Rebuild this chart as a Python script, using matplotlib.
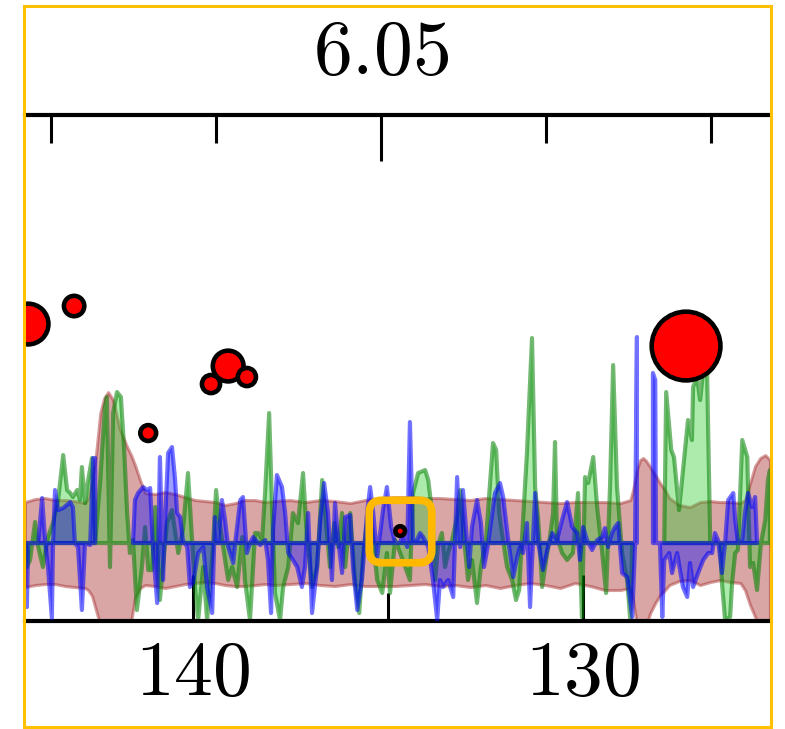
import numpy as np
import matplotlib
matplotlib.use("Agg")
import matplotlib.pyplot as plt
from matplotlib.ticker import MultipleLocator, FuncFormatter
from matplotlib.patches import Rectangle, BoxStyle

plt.rcParams['mathtext.fontset'] = 'cm'

nan = np.nan

# band (mean +/- spread)
band_ppm = [144.31, 144.05, 143.79, 143.54, 143.28, 143.03, 142.77, 142.69, 142.59, 142.49,
            142.38, 142.28, 142.18, 142.05, 141.87, 141.69, 141.59, 141.49, 141.36, 141.23,
            140.97, 140.72, 140.46, 140.21, 139.95, 139.69, 139.44, 139.18, 138.92, 138.67,
            138.41, 138.15, 137.90, 137.51, 137.13, 136.74, 136.36, 135.97, 135.59, 135.21,
            134.82, 134.44, 134.05, 133.67, 133.28, 132.90, 132.51, 132.13, 131.74, 131.36,
            130.97, 130.59, 130.21, 129.82, 129.44, 129.05, 128.79, 128.72, 128.62, 128.54,
            128.46, 128.38, 128.28, 128.15, 128.03, 127.90, 127.79, 127.54, 127.26, 127.00,
            126.74, 126.49, 126.23, 125.97, 125.85, 125.72, 125.59, 125.46, 125.33, 125.21]
band_hi = [4.1, 4.4, 4.5, 4.3, 4.3, 4.2, 4.0, 4.5, 6.3, 8.8,
           13.0, 14.5, 15.1, 14.3, 11.3, 9.6, 8.8, 7.8, 6.3, 5.0,
           4.9, 5.1, 4.9, 4.6, 4.3, 4.2, 4.1, 3.8, 4.0, 4.3,
           4.3, 4.1, 4.2, 4.3, 4.1, 4.3, 4.2, 4.0, 4.3, 4.5,
           4.6, 4.6, 4.5, 4.5, 4.4, 4.3, 4.5, 4.4, 4.3, 4.2,
           4.1, 4.0, 4.1, 4.1, 4.1, 4.0, 4.3, 5.3, 7.3, 8.3,
           8.5, 8.2, 7.6, 6.8, 6.0, 5.3, 4.5, 3.8, 3.6, 4.1,
           4.2, 4.1, 4.1, 4.0, 4.3, 6.0, 7.7, 8.5, 8.8, 8.3]
band_lo = [-4.4, -4.2, -4.1, -4.1, -4.3, -4.4, -4.5, -4.7, -5.3, -6.7,
           -8.2, -9.7, -10.2, -10.2, -9.7, -8.7, -7.9, -5.5, -4.5, -4.2,
           -4.3, -4.5, -4.3, -4.1, -4.0, -3.9, -4.0, -4.2, -4.3, -4.3,
           -4.2, -4.1, -4.2, -4.1, -4.0, -4.2, -4.3, -4.1, -4.3, -4.3,
           -4.3, -4.2, -4.1, -4.3, -4.2, -4.4, -4.2, -4.5, -4.2, -4.0,
           -4.2, -4.5, -4.0, -4.3, -4.7, -4.7, -4.5, -5.7, -8.2, -9.2,
           -8.9, -8.2, -7.0, -6.0, -5.2, -4.7, -4.2, -3.8, -3.7, -4.2,
           -3.9, -3.7, -3.9, -4.0, -4.7, -6.2, -7.4, -8.5, -8.7, -8.7]

# green trace
green_ppm = [144.26, 144.18, 144.05, 143.97, 143.85, 143.72, 143.59, 143.46, 143.33, 143.23,
             143.15, 143.08, 142.97, 142.90, 142.85, 142.77, 142.69, 142.59, 142.51, 142.38,
             142.26, 142.21, 142.13, 142.05, 141.95, 141.85, 141.77, 141.69, 141.62, 141.54,
             141.44, 141.31, 141.23, 141.15, 141.05, 140.97, 140.85, 140.67, 140.54, 140.38,
             140.26, 140.13, 140.03, 139.95, 139.87, 139.74, 139.64, 139.49, 139.41, 139.33,
             139.23, 139.10, 139.00, 138.87, 138.74, 138.67, 138.54, 138.41, 138.33, 138.23,
             138.15, 138.05, 137.97, 137.90, 137.77, 137.69, 137.56, 137.44, 137.31, 137.18,
             137.08, 136.95, 136.82, 136.69, 136.59, 136.49, 136.38, 136.28, 136.18, 136.10,
             135.97, 135.85, 135.74, 135.64, 135.51, 135.41, 135.28, 135.15, 135.03, 134.95,
             134.82, 134.69, 134.56, 134.44, 134.36, 134.23, 134.05, 133.97, 133.87, 133.79,
             133.72, 133.62, 133.54, 133.46, 133.36, 133.23, 133.15, 133.08, 132.95, 132.85,
             132.72, 132.62, 132.49, 132.38, 132.31, 132.23, 132.15, 132.08, 131.95, 131.82,
             131.72, 131.64, 131.54, 131.44, 131.31, 131.23, 131.15, 131.05, 130.92, 130.85,
             130.77, 130.72, 130.67, 130.54, 130.41, 130.26, 130.13, 130.03, 129.95, 129.87,
             129.74, 129.64, 129.51, 129.41, 129.31, 129.23, 129.13, 129.00, 128.87, 128.79,
             128.74, 128.30, 127.92, 127.87, 127.74, 127.67, 127.54, 127.38, 127.31, 127.21,
             127.18, 127.08, 127.00, 126.92, 126.82, 126.74, 126.49, 126.44, 126.36, 126.23,
             126.18, 126.10, 126.03, 125.92, 125.79, 125.72, 125.64, 125.54, 125.44, 125.33,
             125.26, 125.21]
green_int = [-2.4, -1.7, 2.1, -0.4, -2.4, 0.6, 2.0, 4.3, 8.8, 5.3,
             5.0, 4.6, 5.3, 4.3, 7.6, 4.0, 6.3, 8.5, 0.0, 6.3,
             13.6, 14.6, -2.4, 13.0, 15.1, 14.6, 9.6, 3.0, -1.0, 0.3,
             -6.7, -2.4, 1.6, -2.7, -2.7, 3.6, -5.7, 2.0, 3.3, -1.0,
             1.3, 7.0, 0.6, -4.4, -7.7, -2.4, -7.7, -0.4, 5.3, 2.3,
             -0.4, -3.7, -2.4, -4.4, 0.6, -3.7, -7.7, 1.0, 1.0, 0.3,
             5.3, 13.0, 3.0, -5.0, -7.7, -4.4, -2.4, 3.0, 2.0, 7.0,
             0.6, -4.4, -2.4, 6.3, 2.0, -2.4, 2.0, -0.4, 3.0, -2.4,
             3.0, -3.7, -7.0, -1.0, 3.0, 1.3, -3.7, -5.0, -1.0, -5.0,
             0.3, -1.0, -2.4, -3.7, 5.0, 7.0, 7.3, 6.3, 3.0, -3.7,
             -0.2, 1.0, -2.4, -1.0, 0.3, 2.6, 5.3, 1.6, -3.7, -1.7,
             -6.0, -2.4, 0.3, 6.3, 10.0, 9.3, 3.0, 1.0, -2.4, -3.7,
             -5.7, -4.7, 2.3, 9.0, 20.5, 5.6, 2.3, -4.4, -1.0, 0.6,
             3.0, 10.1, 0.6, -1.0, -1.7, -1.0, 5.0, -7.4, 6.6, 6.0,
             8.6, 3.6, -1.0, -5.0, 5.6, 17.8, 5.6, -1.0, -3.7, -7.7,
             0.0, nan, 0.0, 15.1, 9.3, 8.6, 3.3, 9.6, 12.3, 10.3,
             15.6, 16.6, 14.3, 17.3, 17.0, 0.0, 0.0, -4.0, -7.7, -7.4,
             -4.0, -1.0, -0.7, 10.3, 8.6, -2.4, -2.0, -4.7, 0.0, 2.3,
             6.3, 7.3]

# blue trace
blue_ppm = [144.26, 144.23, 143.97, 143.87, 143.79, 143.72, 143.62, 143.59, 143.54, 143.46,
            143.33, 143.15, 143.08, 143.03, 142.95, 142.85, 142.77, 142.64, 142.56, 142.51,
            142.00, 141.54, 141.49, 141.41, 141.28, 141.18, 141.10, 141.03, 140.92, 140.85,
            140.77, 140.72, 140.64, 140.54, 140.46, 140.41, 140.33, 140.26, 140.15, 140.08,
            140.00, 139.87, 139.74, 139.64, 139.51, 139.44, 139.36, 139.26, 139.18, 139.10,
            138.97, 138.92, 138.79, 138.72, 138.62, 138.54, 138.46, 138.28, 138.15, 138.08,
            138.00, 137.95, 137.85, 137.72, 137.64, 137.56, 137.44, 137.33, 137.21, 137.13,
            137.05, 136.95, 136.82, 136.74, 136.64, 136.54, 136.44, 136.36, 136.28, 136.18,
            136.10, 135.97, 135.90, 135.79, 135.67, 135.54, 135.46, 135.38, 135.28, 135.13,
            135.03, 134.92, 134.82, 134.69, 134.62, 134.51, 134.44, 134.36, 134.26, 134.18,
            134.10, 133.97, 133.85, 133.74, 133.67, 133.59, 133.46, 133.33, 133.23, 133.15,
            133.08, 133.00, 132.92, 132.85, 132.72, 132.62, 132.54, 132.44, 132.33, 132.26,
            132.13, 132.05, 131.92, 131.79, 131.69, 131.62, 131.54, 131.44, 131.36, 131.23,
            131.15, 131.03, 130.90, 130.79, 130.67, 130.54, 130.41, 130.28, 130.15, 130.08,
            130.00, 129.90, 129.77, 129.64, 129.51, 129.44, 129.36, 129.26, 129.18, 129.10,
            129.00, 128.87, 128.74, 128.67, 128.62, 128.40, 128.21, 128.15, 128.13, 128.03,
            127.97, 127.92, 127.79, 127.72, 127.59, 127.44, 127.33, 127.26, 127.18, 127.05,
            126.92, 126.79, 126.69, 126.62, 126.54, 126.44, 126.36, 126.28, 126.15, 126.10,
            126.03, 125.92, 125.85, 125.77, 125.67, 125.59, 125.54]
blue_int = [-6.4, 0.0, 0.0, 4.5, 0.0, -2.4, -7.5, 0.0, 5.3, 3.3,
            3.5, 4.1, 3.6, 0.0, -0.4, -6.7, 0.0, -0.2, 8.5, 8.5,
            nan, 0.0, 4.3, 5.0, 5.6, 5.3, 5.5, -0.4, -6.0, 8.6,
            -3.7, 2.0, 9.0, 9.6, 6.3, 3.0, 2.6, 0.3, -0.4, -4.4,
            -4.0, -1.0, -0.4, -4.4, -7.0, 2.6, 0.0, 4.3, 2.3, -0.4,
            -2.0, 0.0, 4.3, 4.6, -1.0, 0.0, 0.6, -0.2, 0.3, -1.7,
            -7.0, 1.3, 6.8, 5.6, 3.0, -1.0, -1.7, -2.4, -4.4, -2.4,
            3.0, -7.0, -2.4, 2.3, 6.0, 3.0, -3.7, 4.0, 0.3, -3.0,
            2.6, 2.8, -2.4, -6.7, -3.7, 3.0, 5.6, 3.0, -1.4, 3.3,
            5.6, 1.6, 0.0, 0.0, 1.3, -0.4, 12.1, 0.3, 0.3, 1.0,
            0.6, -0.4, -3.7, -7.7, -3.7, -4.4, -3.7, -5.4, 6.6, -0.4,
            5.3, 1.3, -2.4, 1.6, 4.3, 2.0, -2.4, -0.2, 3.0, 5.0,
            6.0, 4.6, 0.3, -3.4, -1.4, -0.4, -1.0, 2.0, -6.4, 5.0,
            0.0, -2.7, -0.4, 1.0, 0.3, 2.3, 4.1, 1.6, 1.0, -1.7,
            1.6, 0.3, -0.7, 0.3, 0.6, 1.5, -0.4, 1.0, 1.6, 2.0,
            -3.0, -3.4, -7.4, -0.4, 20.6, nan, 17.0, 16.3, 0.0, 0.0,
            -7.4, -1.7, -1.0, -3.0, -1.0, -4.4, -5.4, -2.0, -4.4, -3.0,
            -1.7, -1.0, -1.0, 1.0, 0.3, -3.0, 0.0, 4.3, 5.0, 2.3,
            0.0, 0.3, 3.0, 5.0, 3.6, 4.6, 0.0]

# picked peaks (bubble area in pt^2)
peak_ppm = [144.23, 143.05, 141.15, 139.54, 139.10, 138.62, 127.36, 134.69]
peak_int = [21.9, 23.7, 11.0, 15.9, 17.7, 16.6, 19.7, 1.2]
peak_size = [860, 215, 130, 170, 490, 170, 2450, 48]
highlight = 7

fig = plt.figure(figsize=(7.85, 7.29), dpi=100)
ax = fig.add_axes([0.0318, 0.1481, 0.9490, 0.6941])

ax.fill_between(band_ppm, band_lo, band_hi, facecolor=(0.647, 0.165, 0.165, 0.42),
                edgecolor=(0.647, 0.165, 0.165, 0.45), linewidth=2.2, zorder=1)
ax.fill_between(green_ppm, 0, green_int, facecolor=(0.196, 0.804, 0.196, 0.4),
                edgecolor=(0.0, 0.5, 0.0, 0.55), linewidth=3.0, zorder=2)
ax.fill_between(blue_ppm, 0, blue_int, facecolor=(0.0, 0.0, 1.0, 0.38),
                edgecolor=(0.0, 0.0, 1.0, 0.55), linewidth=3.0, zorder=3)

ax.scatter(peak_ppm, peak_int, s=peak_size, c='red', edgecolors='black',
           linewidths=3.3, zorder=5)

# rounded square around the selected peak
box = BoxStyle.Round(pad=0, rounding_size=0.2)(-0.5, -0.5, 1, 1, 1.0)
ax.plot([peak_ppm[highlight]], [peak_int[highlight]], marker=box, ms=45,
        mfc='none', mec='#FFB900', mew=5.5, ls='none', zorder=6)

ax.set_xlim(144.31, 125.21)
ax.set_ylim(-7.8, 42.8)
for s in ['top', 'left', 'right']:
    ax.spines[s].set_visible(False)
ax.spines['bottom'].set_linewidth(3)
ax.set_yticks([])
ax.xaxis.set_major_locator(MultipleLocator(10))
ax.xaxis.set_minor_locator(MultipleLocator(5))
ax.xaxis.set_major_formatter(FuncFormatter(lambda v, p: rf'${v:g}$'))
ax.tick_params(axis='x', which='both', direction='in', width=2.2, labelsize=56, pad=10)
ax.tick_params(axis='x', which='major', length=33)
ax.tick_params(axis='x', which='minor', length=20)

ax2 = ax.twiny()
ax2.set_xlim(6.0716, 6.0264)
for s in ['bottom', 'left', 'right']:
    ax2.spines[s].set_visible(False)
ax2.spines['top'].set_linewidth(3)
ax2.xaxis.set_major_locator(MultipleLocator(0.05))
ax2.xaxis.set_minor_locator(MultipleLocator(0.01))
ax2.xaxis.set_major_formatter(FuncFormatter(lambda v, p: rf'${v:.2f}$'))
ax2.tick_params(axis='x', which='both', direction='in', width=2.2, labelsize=56, pad=18)
ax2.tick_params(axis='x', which='major', length=33)
ax2.tick_params(axis='x', which='minor', length=20)

fig.add_artist(Rectangle((0.0306, 0.0027), 0.9516, 0.9891, transform=fig.transFigure,
                         fill=False, edgecolor='#FFC000', linewidth=2.2))

fig.savefig('out.png', dpi=100)
